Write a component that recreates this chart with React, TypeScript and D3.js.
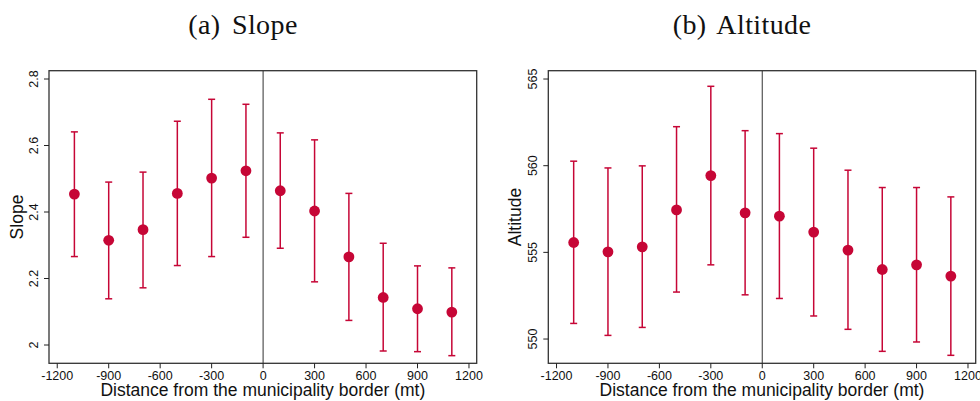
import React from "react";
import * as d3 from "d3";

const distances = [-1100, -900, -700, -500, -300, -100, 100, 300, 500, 700, 900, 1100];
const xTicks = [-1200, -900, -600, -300, 0, 300, 600, 900, 1200];

const slopeMean = [2.454, 2.315, 2.347, 2.456, 2.502, 2.524, 2.464, 2.403, 2.265, 2.143, 2.109, 2.099];
const slopeUpper = [2.641, 2.490, 2.520, 2.673, 2.739, 2.724, 2.638, 2.617, 2.456, 2.306, 2.238, 2.232];
const slopeLower = [2.266, 2.139, 2.172, 2.239, 2.266, 2.324, 2.291, 2.190, 2.074, 1.982, 1.980, 1.968];
const slopeTicks = [2, 2.2, 2.4, 2.6, 2.8];

const altMean = [555.57, 555.03, 555.32, 557.45, 559.43, 557.28, 557.09, 556.17, 555.13, 554.01, 554.28, 553.63];
const altUpper = [560.26, 559.87, 559.99, 562.25, 564.58, 562.02, 561.85, 561.01, 559.74, 558.74, 558.74, 558.20];
const altLower = [550.90, 550.21, 550.67, 552.71, 554.28, 552.55, 552.34, 551.33, 550.56, 549.29, 549.83, 549.06];
const altTicks = [550, 555, 560, 565];

const RED = "#C60636";

type PanelProps = {
  x0: number; x1: number; y0: number; y1: number;
  yDomain: [number, number];
  yTicks: number[];
  mean: number[]; upper: number[]; lower: number[];
  title: string; titleX: number;
  yLabel: string; yLabelX: number; yTickLabelX: number;
};

function Panel(p: PanelProps) {
  const x = d3.scaleLinear().domain([-1248, 1245]).range([p.x0, p.x1]);
  const y = d3.scaleLinear().domain(p.yDomain).range([p.y1, p.y0]);
  const fmt = (v: number) => (Number.isInteger(v) ? String(v) : v.toFixed(1));
  const cy = (p.y0 + p.y1) / 2;
  const cx = (p.x0 + p.x1) / 2;
  return (
    <g>
      <text x={p.titleX} y={34} textAnchor="middle" fontFamily="Liberation Serif, serif" fontSize={28} wordSpacing={4} letterSpacing={0.4} fill="#111">{p.title}</text>
      {/* zero line */}
      <line x1={x(0)} x2={x(0)} y1={p.y0} y2={p.y1} stroke="#444" strokeWidth={1.1} />
      {/* error bars */}
      {distances.map((d, i) => (
        <g key={i} stroke={RED} strokeWidth={1.5}>
          <line x1={x(d)} x2={x(d)} y1={y(p.upper[i])} y2={y(p.lower[i])} />
          <line x1={x(d) - 3.5} x2={x(d) + 3.5} y1={y(p.upper[i])} y2={y(p.upper[i])} />
          <line x1={x(d) - 3.5} x2={x(d) + 3.5} y1={y(p.lower[i])} y2={y(p.lower[i])} />
        </g>
      ))}
      {distances.map((d, i) => (
        <circle key={"c" + i} cx={x(d)} cy={y(p.mean[i])} r={5.4} fill={RED} />
      ))}
      {/* frame */}
      <rect x={p.x0} y={p.y0} width={p.x1 - p.x0} height={p.y1 - p.y0} fill="none" stroke="#333" strokeWidth={1.3} />
      {/* x ticks */}
      {xTicks.map((t) => (
        <g key={"x" + t}>
          <line x1={x(t)} x2={x(t)} y1={p.y1} y2={p.y1 + 5} stroke="#222" strokeWidth={1} />
          <text x={x(t)} y={379.5} textAnchor="middle" fontFamily="Liberation Sans, Arial, sans-serif" fontSize={12.5} fill="#111">{t}</text>
        </g>
      ))}
      {/* y ticks */}
      {p.yTicks.map((t) => (
        <g key={"y" + t}>
          <line x1={p.x0 - 5} x2={p.x0} y1={y(t)} y2={y(t)} stroke="#222" strokeWidth={1} />
          <text transform={`translate(${p.yTickLabelX},${y(t)}) rotate(-90)`} textAnchor="middle" fontFamily="Liberation Sans, Arial, sans-serif" fontSize={12.5} fill="#111">{fmt(t)}</text>
        </g>
      ))}
      <text x={cx} y={396} textAnchor="middle" fontFamily="Liberation Sans, Arial, sans-serif" fontSize={17.5} fill="#111">Distance from the municipality border (mt)</text>
      <text transform={`translate(${p.yLabelX},${cy}) rotate(-90)`} textAnchor="middle" fontFamily="Liberation Sans, Arial, sans-serif" fontSize={17.5} fill="#111">{p.yLabel}</text>
    </g>
  );
}

export default function App() {
  return (
    <svg width={980} height={401} style={{ position: "absolute", left: 0, top: 0, background: "#fff" }}>
      <rect width={980} height={401} fill="#fff" />
      <Panel x0={49} x1={476.7} y0={70.7} y1={363.3} yDomain={[1.945, 2.825]} yTicks={slopeTicks}
        mean={slopeMean} upper={slopeUpper} lower={slopeLower}
        title="(a) Slope" titleX={243} yLabel="Slope" yLabelX={22.5} yTickLabelX={37.5} />
      <Panel x0={548.3} x1={975.7} y0={70.7} y1={363.3} yDomain={[548.6, 565.48]} yTicks={altTicks}
        mean={altMean} upper={altUpper} lower={altLower}
        title="(b) Altitude" titleX={742} yLabel="Altitude" yLabelX={521} yTickLabelX={536.5} />
    </svg>
  );
}
